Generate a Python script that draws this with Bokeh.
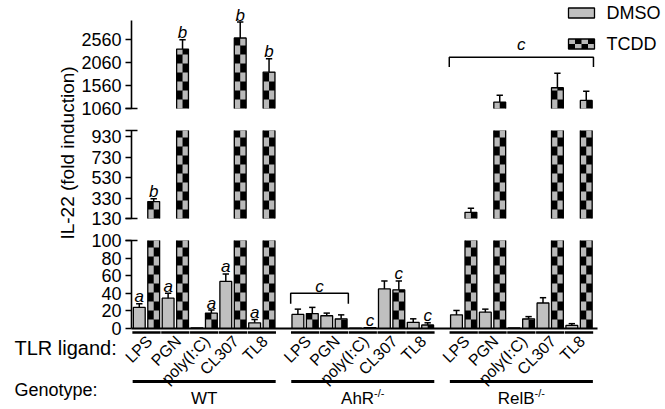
import numpy as np
from bokeh.plotting import figure
from bokeh.models import Range1d, FixedTicker, LinearAxis, Label
from bokeh.embed import file_html
from bokeh.resources import INLINE
from bokeh.core.properties import value

# ---------------- data ----------------
ligands = ["LPS", "PGN", "poly(I:C)", "CL307", "TL8"]
genotypes = ["WT", "AhR", "RelB"]
genotype_sup = ["", "-/-", "-/-"]
treatments = ["DMSO", "TCDD"]

wt_dmso = [24, 34.5, 0.8, 53.5, 6.5]
wt_dmso_err = [4, 5.5, 0, 8.5, 3.7]
wt_tcdd = [295, 2350, 17.5, 2590, 1850]
wt_tcdd_err = [28, 200, 3.5, 345, 290]

ahr_dmso = [16, 14.5, 0.5, 45, 7]
ahr_dmso_err = [6, 3, 0, 9, 4]
ahr_tcdd = [17, 11, 1.0, 44, 4]
ahr_tcdd_err = [7, 4.5, 0, 10, 2.5]

relb_dmso = [15.5, 18.5, 0.6, 29, 3.5]
relb_dmso_err = [5, 3.5, 0, 6, 2]
relb_tcdd = [190, 1200, 11, 1510, 1235]
relb_tcdd_err = [40, 145, 2.5, 315, 200]

# significance letters: genotype, ligand, treatment, letter
sig_letters = [(0, 0, "DMSO", "a"), (0, 0, "TCDD", "b"), (0, 1, "DMSO", "a"),
               (0, 1, "TCDD", "b"), (0, 2, "TCDD", "a"), (0, 3, "DMSO", "a"),
               (0, 3, "TCDD", "b"), (0, 4, "DMSO", "a"), (0, 4, "TCDD", "b"),
               (1, 2, "TCDD", "c"), (1, 3, "TCDD", "c"), (1, 4, "TCDD", "c")]
# brackets: genotype, first ligand, last ligand, bar level, foot level, letter
brackets = [(1, 0, 1, 40, 28, "c"), (2, 0, 4, 2170, 1960, "c")]

top_ticks = [1060, 1560, 2060, 2560]
mid_ticks = [130, 330, 530, 730, 930]
bot_ticks = [0, 20, 40, 60, 80, 100]
top_seg = (1060, 2970)
mid_seg = (130, 990)
bot_seg = (0, 100)

# ---------------- layout / style ----------------
FONT = "Liberation Sans"
GRAY = "#c0c0c0"
CHECK_GRAY = "#b9b9b9"
W, H = 665, 409
AX_L, AX_R = 131, 597          # pixel extent of the x axis line
XMIN, XMAX = -0.52, 15.64
GROUP_STEP = 5.5
OFF, BW, CAP = 0.25, 0.41, 0.11
SQ_PX = 9                      # checker square height (px)

ppu = (AX_R - AX_L) / (XMAX - XMIN)
x_range = Range1d(XMIN - AX_L / ppu, XMIN + (W - AX_L) / ppu)


def seg_range(lo, hi, p_lo, p_hi):
    s = (hi - lo) / (p_lo - p_hi)
    return Range1d(lo - (H - p_lo) * s, lo + p_lo * s), s


r_top, s_top = seg_range(top_seg[0], top_seg[1], 108, 20)
r_mid, s_mid = seg_range(mid_seg[0], mid_seg[1], 218, 130)
r_bot, s_bot = seg_range(bot_seg[0], bot_seg[1], 328, 240)

segments = [("top", top_seg, s_top, top_ticks, [top_seg[0]]),
            ("mid", mid_seg, s_mid, mid_ticks, list(mid_seg)),
            ("default", bot_seg, s_bot, bot_ticks, [bot_seg[1]])]

x_pair = np.array([g * GROUP_STEP + i for g in range(3) for i in range(5)], dtype=float)
dmso = np.array(wt_dmso + ahr_dmso + relb_dmso, dtype=float)
dmso_e = np.array(wt_dmso_err + ahr_dmso_err + relb_dmso_err, dtype=float)
tcdd = np.array(wt_tcdd + ahr_tcdd + relb_tcdd, dtype=float)
tcdd_e = np.array(wt_tcdd_err + ahr_tcdd_err + relb_tcdd_err, dtype=float)
x_d = x_pair - OFF
x_t = x_pair + OFF
series = {"DMSO": (x_d, dmso, dmso_e), "TCDD": (x_t, tcdd, tcdd_e)}

p = figure(width=W, height=H, x_range=x_range, y_range=r_bot, min_border=0,
           toolbar_location=None, output_backend="svg",
           x_axis_location=None, y_axis_location=None)
p.extra_y_ranges = {"top": r_top, "mid": r_mid, "px": Range1d(H, 0)}
p.extra_x_ranges = {"px": Range1d(0, W)}
p.grid.visible = False
p.outline_line_color = None

LETTER = dict(text_align="center", text_baseline="alphabetic", text_font=value(FONT),
              text_font_style="italic", text_font_size="17px", text_color="black")

for name, (lo, hi), s, ticks, breaks in segments:
    kw = dict(y_range_name=name)
    for trt in treatments:
        xs, v, e = series[trt]
        m = v > lo
        if m.any():
            xb, vb = xs[m], v[m]
            top = np.minimum(vb, hi)
            p.vbar(x=xb, bottom=lo, top=top, width=BW, line_color=None,
                   fill_color="black" if trt == "TCDD" else GRAY, **kw)
            if trt == "TCDD":
                h = SQ_PX * s
                L, R, B, T = [], [], [], []
                for xi, ti in zip(xb, top):
                    n = int(np.ceil((ti - lo) / h))
                    for j in range(n):
                        left = xi - BW / 2 + (j % 2) * BW / 2
                        L.append(left); R.append(left + BW / 2)
                        B.append(lo + j * h); T.append(min(lo + (j + 1) * h, ti))
                p.quad(left=L, right=R, bottom=B, top=T, fill_color=CHECK_GRAY,
                       line_color=None, **kw)
            oxs, oys = [], []
            for xi, ti, vi in zip(xb, top, vb):
                l, r = xi - BW / 2, xi + BW / 2
                if vi <= hi:
                    oxs.append([l, l, r, r]); oys.append([lo, ti, ti, lo])
                else:
                    oxs += [[l, l], [r, r]]; oys += [[lo, ti], [lo, ti]]
            p.multi_line(xs=oxs, ys=oys, line_color="black", line_width=1.3, **kw)
        # error bars (upper only)
        up = v + e
        mw = (e > 0) & (up > lo) & (v < hi)
        p.segment(x0=xs[mw], y0=np.maximum(v, lo)[mw], x1=xs[mw], y1=np.minimum(up, hi)[mw],
                  line_color="black", line_width=1.5, **kw)
        mc = (e > 0) & (up >= lo) & (up <= hi)
        p.segment(x0=xs[mc] - CAP, y0=up[mc], x1=xs[mc] + CAP, y1=up[mc],
                  line_color="black", line_width=1.5, **kw)
    # significance letters
    lx, ly, lt = [], [], []
    for g, i, trt, letter in sig_letters:
        xs, v, e = series[trt]
        k = g * 5 + i
        yv = v[k] + e[k]
        if lo <= yv <= hi:
            lx.append(xs[k]); ly.append(yv); lt.append(letter)
    if lx:
        p.text(x=lx, y=ly, text=lt, y_offset=-7, **LETTER, **kw)
    # brackets
    for (g, i0, i1, level, foot, letter), gap in zip(brackets, [7, 13]):
        if lo <= level <= hi:
            xa = x_pair[g * 5 + i0] - 0.5
            xb_ = x_pair[g * 5 + i1] + 0.5
            p.line(x=[xa, xa, xb_, xb_], y=[foot, level, level, foot],
                   line_color="black", line_width=1.5, **kw)
            p.text(x=[(xa + xb_) / 2], y=[level], text=[letter], y_offset=-gap, **LETTER, **kw)
    # y axis of this segment
    ax = LinearAxis(y_range_name=name, fixed_location=XMIN, bounds=(lo, hi),
                    ticker=FixedTicker(ticks=ticks, minor_ticks=breaks),
                    major_tick_in=0, major_tick_out=6, minor_tick_in=6, minor_tick_out=6,
                    axis_line_width=1.6, major_tick_line_width=1.6, minor_tick_line_width=1.6,
                    major_label_text_font=FONT, major_label_text_font_size="18px",
                    major_label_text_color="black", major_label_standoff=4)
    p.add_layout(ax, "left")

# x baseline
xax = LinearAxis(fixed_location=0, bounds=(XMIN, XMAX), ticker=FixedTicker(ticks=[]),
                 axis_line_width=2.2, major_tick_line_color=None, minor_tick_line_color=None,
                 major_label_text_font_size="0px")
p.add_layout(xax, "below")

# category annotations under the baseline
u = s_bot
p.segment(x0=x_pair - 0.49, y0=-4 * u, x1=x_pair + 0.49, y1=-4 * u,
          line_color="black", line_width=2.5)
p.text(x=x_pair, y=0, text=ligands * 3, angle=np.pi / 4, text_align="right",
       text_baseline="middle", x_offset=3, y_offset=10, text_font=value(FONT),
       text_font_size="16px", text_color="black")
g_left = x_pair[0::5] - 0.48
g_right = x_pair[4::5] + 0.48
g_center = (x_pair[0::5] + x_pair[4::5]) / 2
p.segment(x0=g_left, y0=-53 * u, x1=g_right, y1=-53 * u, line_color="black", line_width=3)

ARIAL = {"A": .667, "h": .556, "R": .722, "e": .556, "l": .222, "B": .667,
         "W": .944, "T": .611, "-": .333, "/": .278}
MAIN_FS, SUP_FS = 17, 11
main_w = np.array([sum(ARIAL[c] for c in s_) * MAIN_FS for s_ in genotypes])
sup_w = np.array([sum(ARIAL[c] for c in s_) * SUP_FS for s_ in genotype_sup])
main_off = main_w / 2 - (main_w + sup_w) / 2
for k in range(3):
    p.text(x=[g_center[k]], y=-70 * u, text=[genotypes[k]], text_align="center",
           text_baseline="middle", x_offset=float(main_off[k]), text_font=value(FONT),
           text_font_size=f"{MAIN_FS}px", text_color="black")
    if genotype_sup[k]:
        p.text(x=[g_center[k]], y=-70 * u, text=[genotype_sup[k]], text_align="left",
               text_baseline="middle", x_offset=float(main_off[k] + main_w[k] / 2),
               y_offset=-6, text_font=value(FONT), text_font_size=f"{SUP_FS}px",
               text_color="black")

TXT = dict(x_units="screen", y_units="screen", text_font=FONT, text_color="black")
p.add_layout(Label(x=14, y=H - 347, text="TLR ligand:", text_baseline="middle",
                   text_font_size="20px", **TXT))
p.add_layout(Label(x=14, y=H - 389, text="Genotype:", text_baseline="middle",
                   text_font_size="18px", **TXT))
p.add_layout(Label(x=67, y=H - 152.5, text="IL-22 (fold induction)", angle=np.pi / 2,
                   text_align="center", text_baseline="middle", text_font_size="19px", **TXT))

# legend (drawn in pixel space)
LEG_X, LEG_W, LEG_H = 568, 26, 10
LEG_Y = [7.5, 38.5]
LEG_TX = 606
px = dict(x_range_name="px", y_range_name="px")
p.quad(left=[LEG_X], right=[LEG_X + LEG_W], top=[LEG_Y[0]], bottom=[LEG_Y[0] + LEG_H],
       fill_color=GRAY, line_color="black", line_width=1.3, **px)
p.quad(left=[LEG_X], right=[LEG_X + LEG_W], top=[LEG_Y[1]], bottom=[LEG_Y[1] + LEG_H],
       fill_color="black", line_color=None, **px)
cl, cr, ct, cb = [], [], [], []
for i in range(4):
    for j in range(2):
        if (i + j) % 2 == 0:
            cl.append(LEG_X + i * LEG_W / 4); cr.append(LEG_X + (i + 1) * LEG_W / 4)
            ct.append(LEG_Y[1] + j * LEG_H / 2); cb.append(LEG_Y[1] + (j + 1) * LEG_H / 2)
p.quad(left=cl, right=cr, top=ct, bottom=cb, fill_color=CHECK_GRAY, line_color=None, **px)
p.quad(left=[LEG_X], right=[LEG_X + LEG_W], top=[LEG_Y[1]], bottom=[LEG_Y[1] + LEG_H],
       fill_color=None, line_color="black", line_width=1.3, **px)
for lab, y0 in zip(treatments, LEG_Y):
    p.add_layout(Label(x=LEG_TX, y=H - (y0 + LEG_H / 2), text=lab, text_baseline="middle",
                       text_font_size="18px", **TXT))

open("out.html", "w").write(file_html(p, INLINE))
